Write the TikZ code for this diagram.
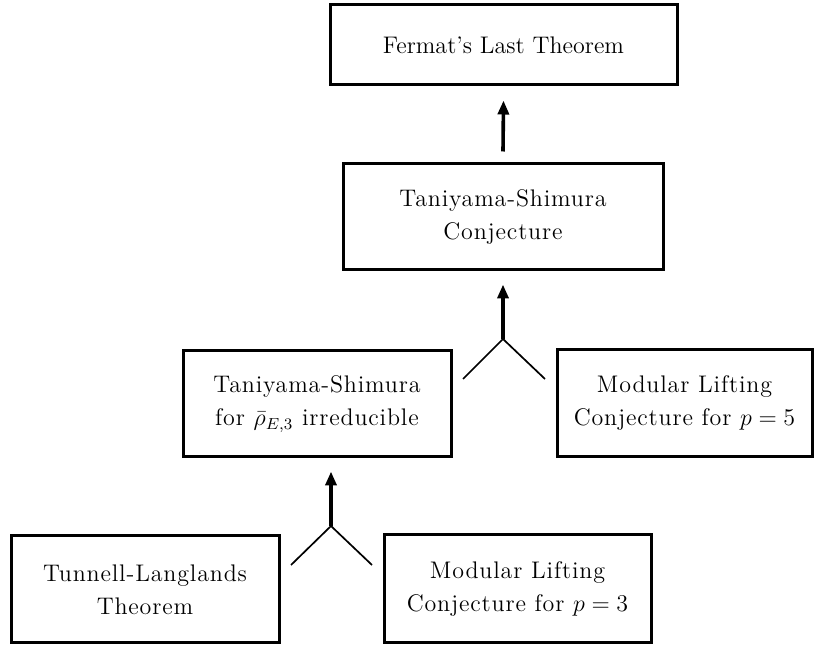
\documentclass[tikz,border=0pt]{standalone}
\usepackage{fontspec}
\newfontfamily\lmsp{lmroman12-regular.otf}[LetterSpace=3.5]
\usetikzlibrary{arrows.meta}
\begin{document}
\begin{tikzpicture}[x=0.5pt,y=-0.5pt,
  box/.style={draw,line width=1.5pt,align=center,inner sep=0pt,
    font=\lmsp\fontsize{12}{16.5}\selectfont},
  arr/.style={line width=1.8pt,-{Triangle[length=7pt,width=5.5pt]}},
  leg/.style={line width=0.85pt}]
\useasboundingbox (0,0) rectangle (815,646);
\node[box,minimum width=173.5pt,minimum height=40pt,
  font=\fontsize{12}{16.5}\selectfont] (fermat) at (503.5,45) {Fermat's Last Theorem};
\node[box,minimum width=160pt,minimum height=53pt] (tsc) at (503,217) {Taniyama-Shimura\\Conjecture};
\node[box,minimum width=134pt,minimum height=53pt] (tsr) at (317,404) {Taniyama-Shimura\\for $\bar\rho_{E,3}$ irreducible};
\node[box,minimum width=127.5pt,minimum height=53.5pt] (ml5) at (684.5,403.5) {Modular Lifting\\Conjecture for $p=5$};
\node[box,minimum width=134pt,minimum height=53.5pt] (tl) at (145,589.5) {Tunnell-Langlands\\Theorem};
\node[box,minimum width=133.5pt,minimum height=54pt] (ml3) at (517.5,589) {Modular Lifting\\Conjecture for $p=3$};
% top arrow
\draw[arr] ([yshift=5.5pt]tsc.north) -- ([yshift=-7pt]fermat.south);
% upper junction
\coordinate (j1) at (503,339);
\coordinate (j1l) at (463,379);
\coordinate (j1r) at (545,379);
\draw[leg] (j1l) -- (j1) -- (j1r);
\draw[arr] (j1) -- ([yshift=-6.5pt]tsc.south);
% lower junction
\coordinate (j2) at (331,526);
\coordinate (j2l) at (291,565);
\coordinate (j2r) at (372,565);
\draw[leg] (j2l) -- (j2) -- (j2r);
\draw[arr] (j2) -- ([yshift=-6.5pt]tsr.south -| j2);
\end{tikzpicture}
\end{document}
